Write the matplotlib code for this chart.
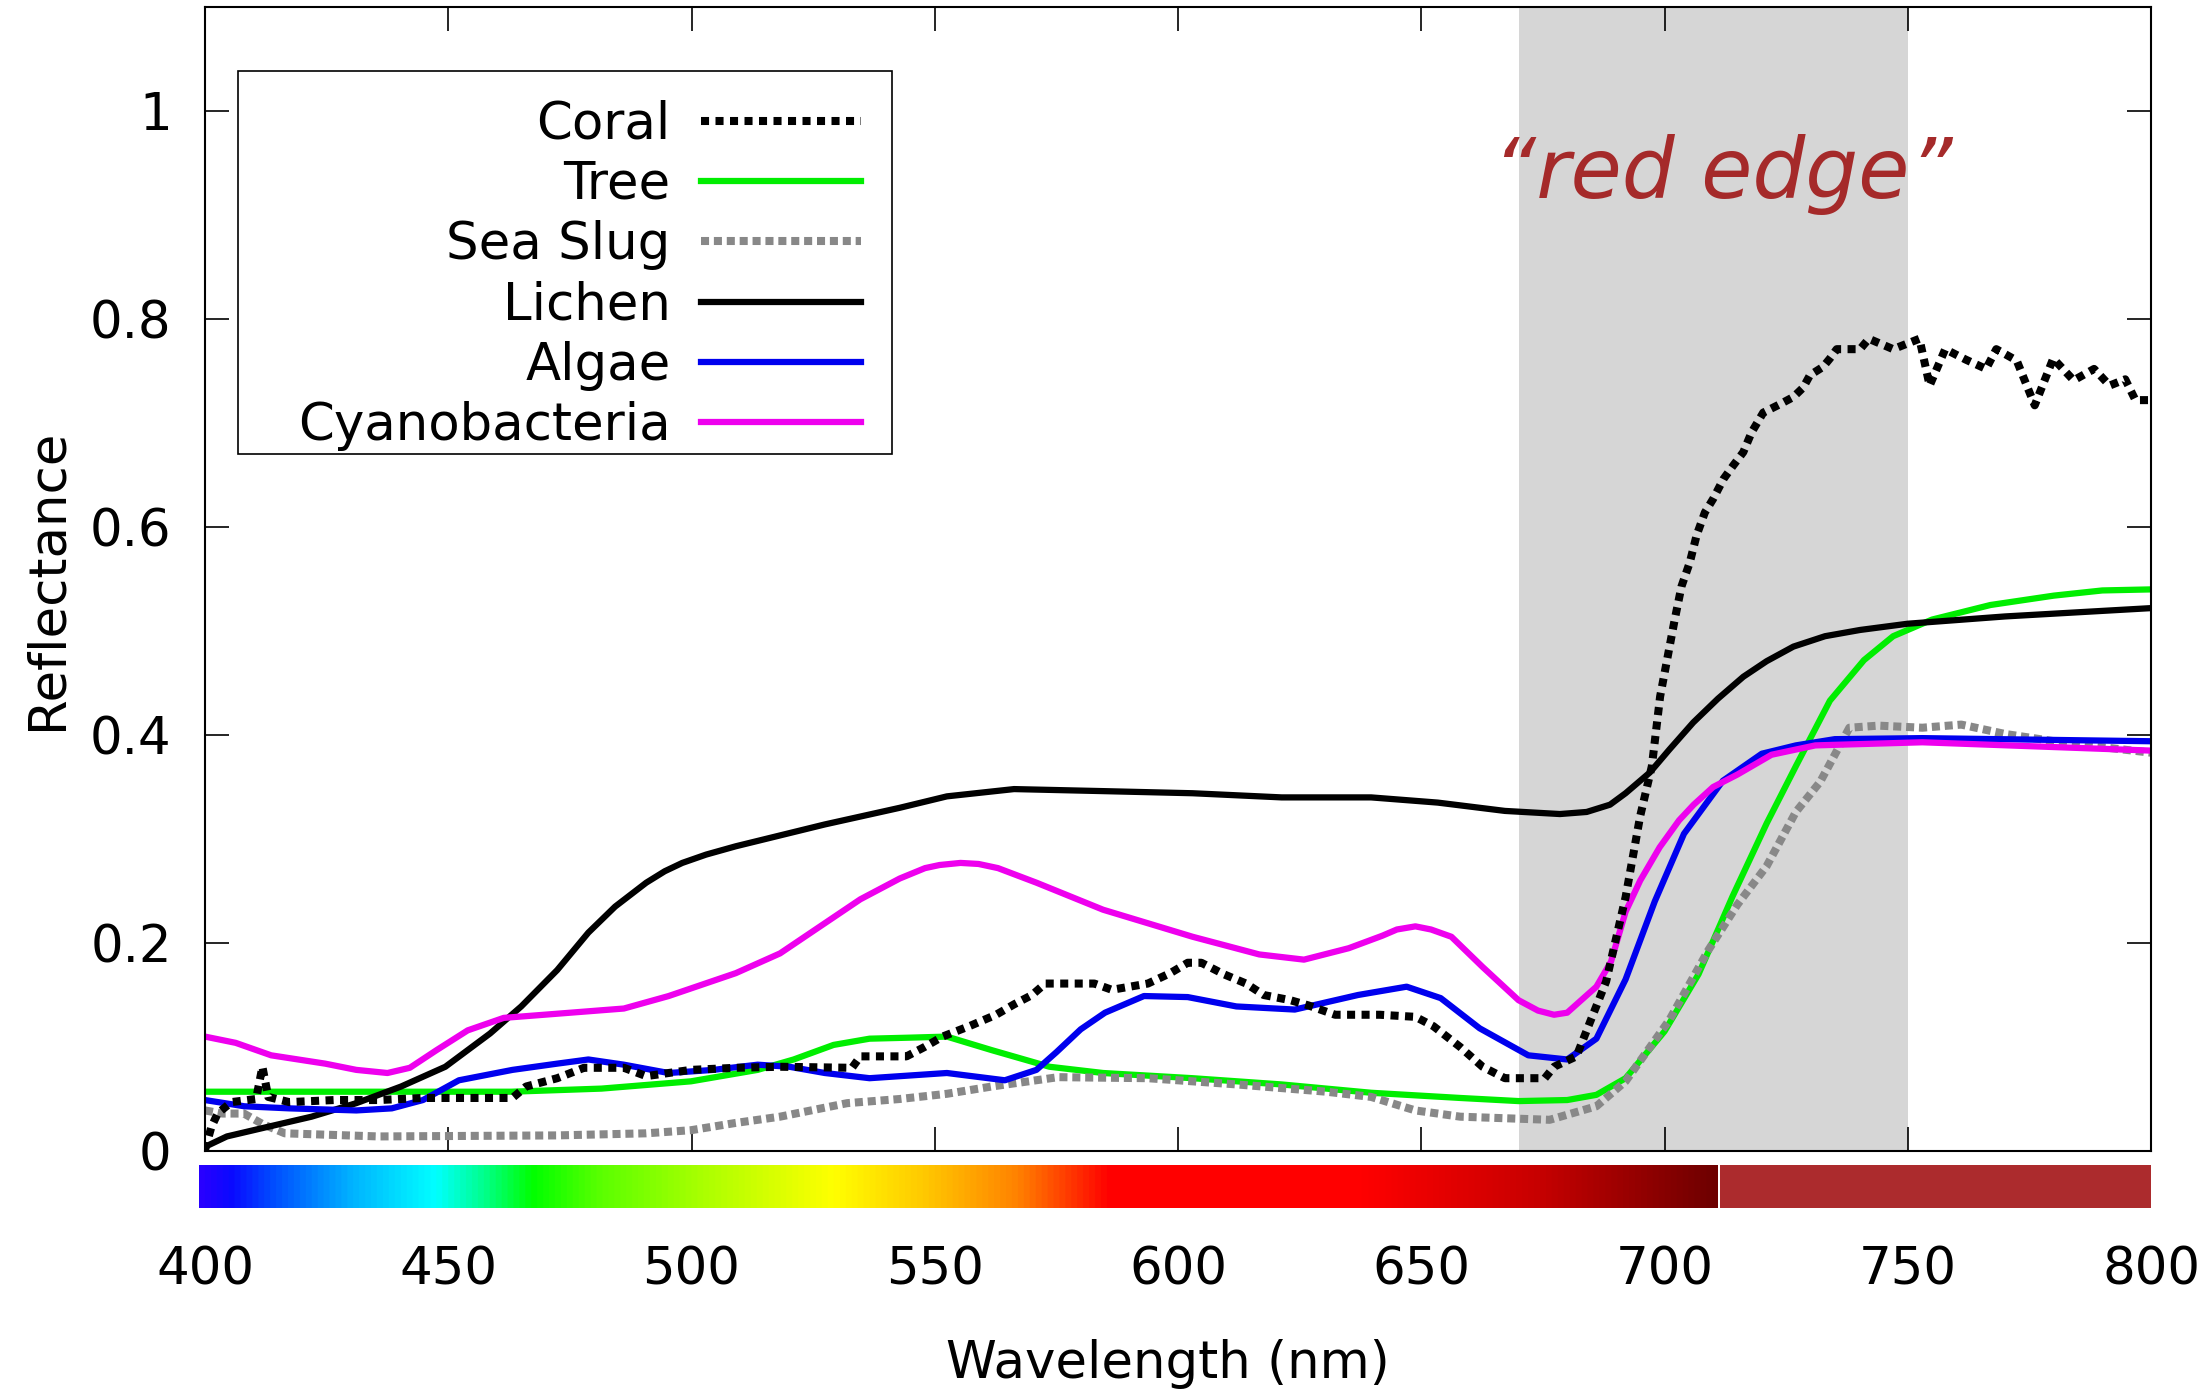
import numpy as np
import matplotlib
matplotlib.use("Agg")
import matplotlib.pyplot as plt
from matplotlib.colors import LinearSegmentedColormap
from matplotlib.patches import Rectangle

plt.rcParams['font.family'] = ['DejaVu Sans']

# --- datos (longitud de onda en nm, reflectancia) ---
coral_wl = [400, 401.3, 402.6, 405.4, 410.5, 411.8, 413, 417.3, 426.5, 435.7, 444.8, 454,
            463.2, 466, 472.4, 477.9, 486.1, 490.7, 499.9, 509.1, 518.2, 533, 534.7, 544.2,
            547.9, 551.6, 557.1, 562.6, 566.3, 570, 572.7, 582.8, 586.4, 593.8, 598.4, 602,
            604.8, 609.4, 614, 617.6, 623.1, 626.8, 632.3, 641.5, 648.8, 652.5, 658, 662.6,
            667.2, 675.4, 677.3, 681.9, 683, 688, 692, 695, 697.4, 699.1, 700.8, 702.1, 703.5,
            705.2, 706.6, 708.3, 710, 712.1, 714.1, 716.2, 717.9, 720.3, 723.7, 726.5, 728.5,
            729.9, 732.6, 734, 735.4, 740.2, 742, 747, 752.4, 754.5, 757.7, 761.9, 766.1,
            768.2, 772.4, 776.1, 779.9, 784.1, 788.3, 791.5, 794.7, 796.8, 800]
coral = [0.001, 0.023, 0.036, 0.047, 0.050, 0.081, 0.052, 0.047, 0.049, 0.049, 0.051, 0.051,
         0.051, 0.062, 0.070, 0.080, 0.080, 0.072, 0.078, 0.080, 0.081, 0.080, 0.091, 0.091,
         0.100, 0.110, 0.120, 0.131, 0.141, 0.150, 0.161, 0.161, 0.155, 0.161, 0.171, 0.181,
         0.181, 0.170, 0.161, 0.150, 0.145, 0.140, 0.131, 0.131, 0.129, 0.120, 0.100, 0.081,
         0.070, 0.070, 0.081, 0.091, 0.104, 0.163, 0.244, 0.322, 0.370, 0.437, 0.479, 0.511,
         0.543, 0.566, 0.592, 0.614, 0.627, 0.646, 0.659, 0.672, 0.691, 0.710, 0.718, 0.725,
         0.734, 0.746, 0.754, 0.762, 0.771, 0.771, 0.781, 0.771, 0.781, 0.736, 0.771, 0.761,
         0.752, 0.771, 0.760, 0.717, 0.762, 0.741, 0.752, 0.736, 0.742, 0.722, 0.722]

tree_wl = [400, 463, 481.5, 499.9, 513.6, 521, 529.2, 536.6, 545, 552.5, 561.7, 573.6, 584.6,
           603, 621.3, 639.7, 658, 670, 680, 686, 692, 700, 707, 714, 721, 727, 734, 741,
           747, 755, 767, 780, 790, 800]
tree = [0.057, 0.057, 0.060, 0.067, 0.078, 0.088, 0.102, 0.108, 0.109, 0.110, 0.097, 0.081,
        0.075, 0.070, 0.064, 0.056, 0.051, 0.048, 0.049, 0.054, 0.070, 0.115, 0.170, 0.245,
        0.315, 0.370, 0.433, 0.472, 0.495, 0.511, 0.525, 0.534, 0.539, 0.540]

slug_wl = [400, 403.6, 408, 411.8, 416.4, 435.7, 472.4, 490.7, 499.9, 509.1, 518.2, 532, 542.8,
           552.5, 561.7, 575.4, 593.8, 612.1, 630.5, 639.7, 648.8, 658, 676.4, 686, 692, 701,
           709, 715, 721, 727, 732, 735, 738, 744, 753, 761, 770, 783, 800]
slug = [0.039, 0.036, 0.036, 0.026, 0.017, 0.014, 0.015, 0.017, 0.020, 0.027, 0.033, 0.046,
        0.050, 0.055, 0.062, 0.071, 0.070, 0.064, 0.057, 0.052, 0.039, 0.033, 0.030, 0.043,
        0.067, 0.126, 0.193, 0.237, 0.274, 0.326, 0.355, 0.381, 0.407, 0.409, 0.407, 0.410,
        0.401, 0.392, 0.383]

lichen_wl = [400, 404.5, 412.7, 421.9, 431.1, 440.3, 449.4, 458.6, 465, 472.4, 478.8, 484.3,
             490.7, 494.5, 498.1, 503, 509.1, 527.4, 542.8, 552.5, 566.3, 585, 603, 621.3,
             639.7, 653.4, 667.2, 678.5, 684, 688.8, 692, 697, 701, 705.9, 711, 716.2, 721,
             726.5, 733, 740.2, 750, 770, 800]
lichen = [0.004, 0.014, 0.023, 0.033, 0.046, 0.062, 0.081, 0.113, 0.139, 0.174, 0.210, 0.235,
          0.258, 0.269, 0.277, 0.285, 0.293, 0.314, 0.330, 0.341, 0.348, 0.346, 0.344, 0.340,
          0.340, 0.335, 0.327, 0.324, 0.326, 0.333, 0.344, 0.364, 0.386, 0.412, 0.435, 0.456,
          0.471, 0.485, 0.495, 0.501, 0.507, 0.514, 0.522]

algae_wl = [400, 408.1, 417.3, 431.1, 438.4, 444.8, 452.2, 463.2, 472.4, 478.8, 486.1, 495.3,
            504.5, 513.6, 520.1, 527.4, 536.6, 552.5, 564.4, 570.9, 575, 580, 585, 593, 602,
            612, 624, 637, 647, 654, 662, 672, 680, 686, 692, 698, 704, 712, 720, 727,
            735, 753, 800]
algae = [0.049, 0.043, 0.041, 0.039, 0.041, 0.049, 0.068, 0.078, 0.084, 0.088, 0.083, 0.075,
         0.078, 0.083, 0.081, 0.075, 0.070, 0.075, 0.068, 0.078, 0.095, 0.117, 0.133, 0.149,
         0.148, 0.139, 0.136, 0.150, 0.158, 0.147, 0.118, 0.092, 0.088, 0.108, 0.165, 0.240,
         0.305, 0.356, 0.382, 0.390, 0.396, 0.397, 0.394]

cyano_wl = [400, 406.3, 413.6, 424.7, 431.1, 437.5, 442.1, 447.6, 454, 461.4, 472.4, 486.1,
            495.3, 509.1, 518.2, 527.4, 534.7, 542.8, 548, 551, 555.3, 559, 563, 570.9, 584.6,
            603, 616.7, 625.9, 635.1, 642, 645, 648.8, 652, 656.2, 662.6, 670, 674, 677.3,
            680, 686, 689, 692, 695, 699, 703, 706, 710, 715, 722, 731, 753, 800]
cyano = [0.110, 0.104, 0.092, 0.084, 0.078, 0.075, 0.080, 0.097, 0.116, 0.128, 0.132, 0.137,
         0.149, 0.171, 0.190, 0.219, 0.242, 0.262, 0.272, 0.275, 0.277, 0.276, 0.272, 0.258,
         0.232, 0.206, 0.189, 0.184, 0.195, 0.207, 0.213, 0.216, 0.213, 0.206, 0.177, 0.145,
         0.135, 0.131, 0.133, 0.158, 0.182, 0.230, 0.260, 0.292, 0.318, 0.333, 0.350, 0.362,
         0.381, 0.390, 0.393, 0.385]

# barra de colores del espectro
spec_wl = [398.8, 405, 414, 430, 447, 457, 467, 481, 502, 529, 548, 567, 586, 638, 674, 711]
spec_rgb = [(40, 0, 255), (10, 10, 255), (0, 80, 255), (0, 180, 255), (0, 255, 255),
            (0, 255, 140), (0, 255, 0), (90, 255, 0), (170, 255, 0), (255, 255, 0),
            (255, 200, 0), (255, 130, 0), (255, 0, 0), (255, 0, 0), (200, 0, 0), (110, 0, 0)]
red_edge = (670, 750)

W, H = 2206, 1390
fig = plt.figure(figsize=(W / 100, H / 100), dpi=100)
ax = fig.add_axes([205 / W, 1 - 1151 / H, (2151 - 205) / W, (1151 - 7) / H])

ax.axvspan(*red_edge, color='#d6d6d6', lw=0, zorder=0)

ax.plot(coral_wl, coral, color='black', lw=5.8, ls=(0, (1, 0.8)),
        dash_capstyle='butt', label='Coral', zorder=3)
ax.plot(tree_wl, tree, color='#00ee00', lw=4.5, label='Tree', zorder=2)
ax.plot(slug_wl, slug, color='#888888', lw=5.8, ls=(0, (1, 0.6)),
        dash_capstyle='butt', label='Sea Slug', zorder=2)
ax.plot(lichen_wl, lichen, color='black', lw=4.5, label='Lichen', zorder=2)
ax.plot(algae_wl, algae, color='#0000ee', lw=4.5, label='Algae', zorder=2)
ax.plot(cyano_wl, cyano, color='#ee00ee', lw=4.5, label='Cyanobacteria', zorder=2)

ax.set_xlim(400, 800)
ax.set_ylim(0, 1.1)
ax.set_xticks(np.arange(400, 801, 50))
ax.set_yticks([0, 0.2, 0.4, 0.6, 0.8, 1.0])
ax.set_yticklabels(['0', '0.2', '0.4', '0.6', '0.8', '1'])
ax.tick_params(direction='in', length=17, width=1.2, top=True, right=True, labelsize=37)
ax.tick_params(axis='x', pad=68)
ax.tick_params(axis='y', pad=24)
for s in ax.spines.values():
    s.set_linewidth(1.5)

ax.set_xlabel('Wavelength (nm)', fontsize=37)
ax.set_ylabel('Reflectance', fontsize=37)
ax.xaxis.set_label_coords(0.495, -0.164)
ax.yaxis.set_label_coords(-0.068, 0.5)

ax.text(712, 0.916, '\u201cred edge\u201d', color='#a52a2a', fontsize=60,
        style='italic', ha='center', va='baseline')

# leyenda al estilo gnuplot: texto alineado a la derecha, muestra a la derecha
ax.add_patch(Rectangle((0.017, 0.609), 0.336, 0.335, transform=ax.transAxes,
                       facecolor='white', edgecolor='black', lw=1.2, zorder=4))
leg = ax.legend(loc='upper right', bbox_to_anchor=(0.337, 0.919), markerfirst=False,
                fontsize=37, frameon=False, borderpad=0, labelspacing=0.2,
                handlelength=3.1, handletextpad=0.6, borderaxespad=0)
leg.set_zorder(5)

# barra del espectro bajo el eje
cax = fig.add_axes([199 / W, 1 - 1208 / H, (2151 - 199) / W, 43 / H])
cax.set_xlim(398.8, 800)
cax.set_ylim(0, 1)
nodes = [(w - spec_wl[0]) / (spec_wl[-1] - spec_wl[0]) for w in spec_wl]
cmap = LinearSegmentedColormap.from_list(
    'spec', list(zip(nodes, [tuple(c / 255 for c in rgb) for rgb in spec_rgb])))
grad = np.linspace(0, 1, 1024).reshape(1, -1)
cax.imshow(grad, cmap=cmap, aspect='auto', extent=[spec_wl[0], spec_wl[-1], 0, 1])
cax.axvspan(spec_wl[-1] + 0.4, 800, color='#ac2b2d', lw=0)
cax.set_xlim(398.8, 800)
cax.axis('off')

fig.savefig('out.png', dpi=100)
